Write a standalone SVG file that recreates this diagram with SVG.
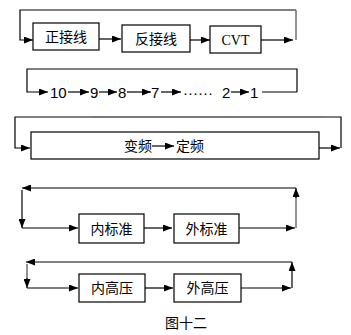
<svg xmlns="http://www.w3.org/2000/svg" width="351" height="335" viewBox="0 0 351 335">
<style>
.box{fill:#fff;stroke:#000;stroke-width:1.2}
.ln{fill:none;stroke:#000;stroke-width:1.2}
.gl{fill:none;stroke:#777;stroke-width:1.6}
.cjk{font-family:"Noto Sans CJK SC","Noto Sans",sans-serif;font-size:14px;fill:#000}
.num{font-family:"Liberation Sans",Arial,sans-serif;font-size:15px;fill:#000}
.ser{font-family:"Liberation Serif","Times New Roman",serif;font-size:14px;fill:#000}
</style>
<defs>
<marker id="ah" markerUnits="userSpaceOnUse" markerWidth="9" markerHeight="7" refX="9" refY="3.5" orient="auto">
<path d="M0,0 L9,3.5 L0,7 Z" fill="#000"/>
</marker>
</defs>
<rect width="351" height="335" fill="#fff"/>
<g id="connectors">
<path class="ln" d="M296,10 H20 V40 H33" marker-end="url(#ah)"/>
<path class="gl" d="M296,10 V40"/>
<path class="ln" d="M99,39 H121" marker-end="url(#ah)"/>
<path class="ln" d="M190,40 H210" marker-end="url(#ah)"/>
<path class="ln" d="M261,40 H293" marker-end="url(#ah)"/>
<path class="ln" d="M297,92 H262 M297,92 V69 H27 V92 H48" marker-end="url(#ah)"/>
<path class="ln" d="M68,92 H89" marker-end="url(#ah)"/>
<path class="ln" d="M99,92 H117" marker-end="url(#ah)"/>
<path class="ln" d="M127,92 H151" marker-end="url(#ah)"/>
<path class="ln" d="M161,92 H181" marker-end="url(#ah)"/>
<path class="ln" d="M231,92 H249" marker-end="url(#ah)"/>
<path class="ln" d="M341,148 V117 H15 V148 H30" marker-end="url(#ah)"/>
<path class="gl" d="M92,117 H322"/>
<path class="ln" d="M319,148 H340" marker-end="url(#ah)"/>
<path class="ln" d="M296,188 H22" marker-end="url(#ah)"/>
<path class="ln" d="M22,190 V228" marker-end="url(#ah)"/>
<path class="ln" d="M22,228 H78" marker-end="url(#ah)"/>
<path class="ln" d="M144,228 H172" marker-end="url(#ah)"/>
<path class="ln" d="M239,228 H295" marker-end="url(#ah)"/>
<path class="gl" d="M296,228 V196"/>
<path class="ln" d="M296,198 V188" marker-end="url(#ah)"/>
<path class="ln" d="M292,262 H26" marker-end="url(#ah)"/>
<path class="gl" d="M27,264 V280"/>
<path class="ln" d="M27,278 V288" marker-end="url(#ah)"/>
<path class="ln" d="M27,288 H78" marker-end="url(#ah)"/>
<path class="ln" d="M145,288 H173" marker-end="url(#ah)"/>
<path class="ln" d="M241,288 H291" marker-end="url(#ah)"/>
<path class="ln" d="M292,288 V262" marker-end="url(#ah)"/>
</g>
<g id="n-zheng"><rect class="box" x="33" y="23" width="66" height="27"/><text class="cjk" x="66" y="42" text-anchor="middle">正接线</text></g>
<g id="n-fan"><rect class="box" x="122" y="25" width="68" height="27"/><text class="cjk" x="156" y="44" text-anchor="middle">反接线</text></g>
<g id="n-cvt"><rect class="box" x="210" y="26" width="51" height="27"/><text class="ser" x="235.5" y="45" text-anchor="middle">CVT</text></g>
<g id="n-seq">
<text class="num" x="50" y="97.5">10</text>
<text class="num" x="90" y="97.5">9</text>
<text class="num" x="118" y="97.5">8</text>
<text class="num" x="151" y="97.5">7</text>
<text class="num" x="183" y="97.5">······</text>
<text class="num" x="222" y="97.5">2</text>
<text class="num" x="250" y="97.5">1</text>
</g>
<g id="n-freq"><rect class="box" x="31" y="132" width="288" height="27"/><text class="cjk" x="124" y="151">变频</text><path class="ln" d="M152,146 H174" marker-end="url(#ah)"/><text class="cjk" x="176" y="151">定频</text></g>
<g id="n-neibz"><rect class="box" x="79" y="214" width="65" height="29"/><text class="cjk" x="111.5" y="234" text-anchor="middle">内标准</text></g>
<g id="n-waibz"><rect class="box" x="174" y="214" width="65" height="29"/><text class="cjk" x="206.5" y="234" text-anchor="middle">外标准</text></g>
<g id="n-neigy"><rect class="box" x="79" y="274" width="66" height="28"/><text class="cjk" x="112" y="293" text-anchor="middle">内高压</text></g>
<g id="n-waigy"><rect class="box" x="174" y="274" width="67" height="28"/><text class="cjk" x="207.5" y="293" text-anchor="middle">外高压</text></g>
<text class="cjk" x="186" y="328" text-anchor="middle">图十二</text>
</svg>
